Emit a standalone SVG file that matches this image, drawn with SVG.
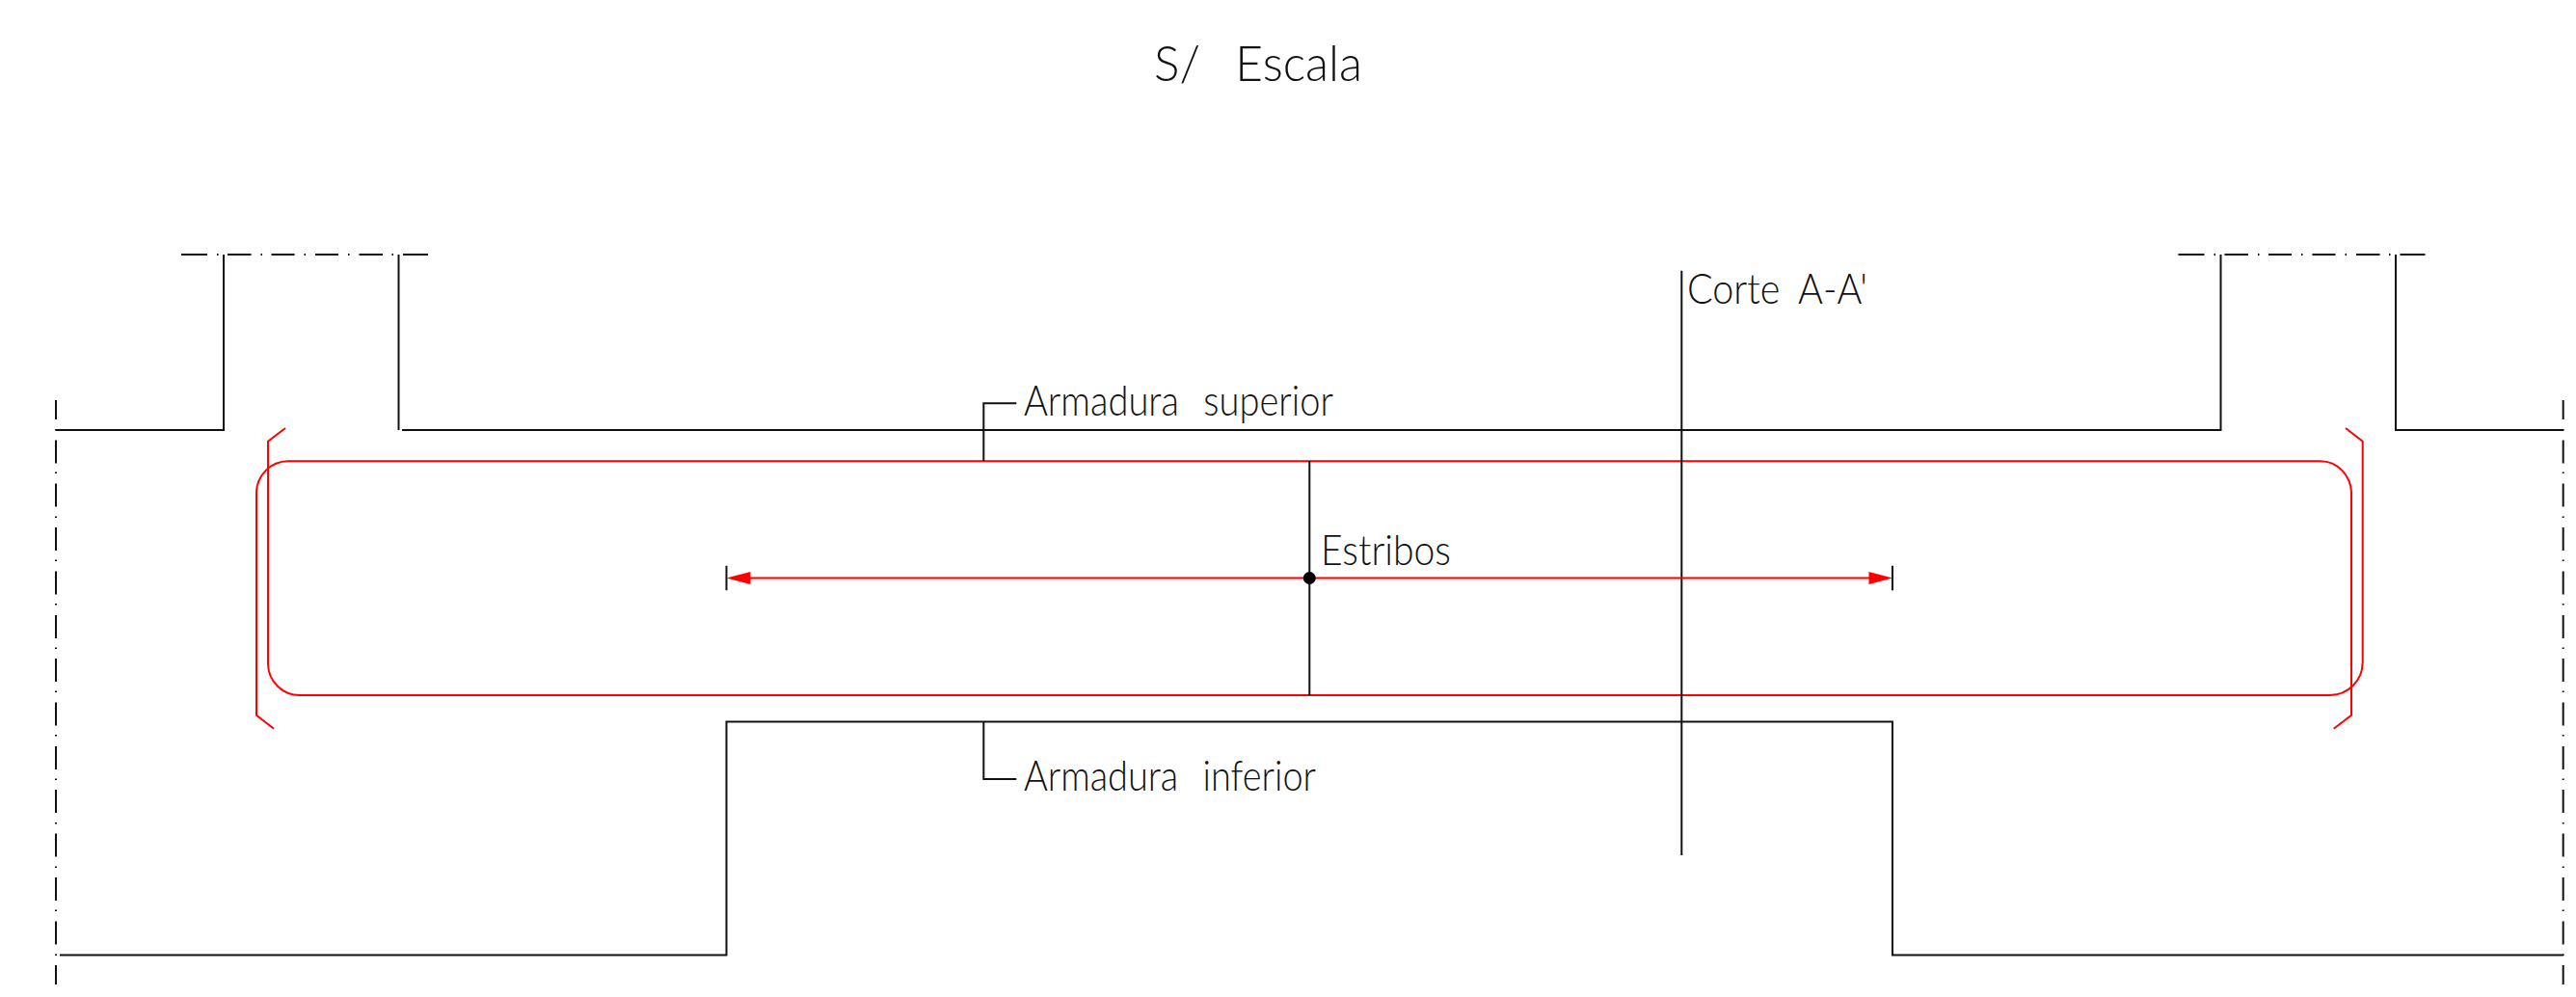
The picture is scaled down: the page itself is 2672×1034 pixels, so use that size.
<svg xmlns="http://www.w3.org/2000/svg" xmlns:xlink="http://www.w3.org/1999/xlink" width="2672" height="1034" viewBox="0 0 2672 1034">
<style>
.k{fill:none;stroke:#111;stroke-width:2}
.r{fill:none;stroke:#f00;stroke-width:2}
.a{fill:#f00;stroke:none}
text{font-family:"Lato","Liberation Sans",sans-serif;font-weight:300;fill:#111}
.t{font-size:43px;word-spacing:17px}
.c{font-size:43px;word-spacing:10px}
.b{font-size:52px;word-spacing:24px}
</style>
<defs>
<path id="hcl" class="k" d="M188 264H215M225 264H226.5M236 264H260.5M270.5 264H272M281.5 264H305.5M315.5 264H317M327 264H351M361 264H362.5M372.5 264H397M406.5 264H408M418 264H444"/>
<path id="vcl" class="k" d="M58 415V435M58 445V446.5M58 456.5V480.5M58 489.5V491M58 501.5V525.5M58 535.5V537M58 547V571M58 580.5V582M58 592.5V616.5M58 626V627.5M58 638V662M58 671.5V673M58 683V707M58 716.5V718M58 728.5V752.5M58 762V763.5M58 774V798M58 807.5V809M58 819V843M58 853V854.5M58 864.5V888.5M58 898.5V900M58 910V934M58 943.5V945M58 955.5V979.5M58 989.5V991M58 1001V1021"/>
</defs>
<g id="axes">
<use href="#hcl"/>
<use href="#hcl" transform="translate(2071.5 0)"/>
<use href="#vcl"/>
<use href="#vcl" transform="translate(2600.7 0)"/>
</g>
<g id="beam-outline">
<path class="k" d="M58 446H232V264"/>
<path class="k" d="M413.5 264V446"/>
<path class="k" d="M417 446H2303.5V264"/>
<path class="k" d="M2485 264V446H2659"/>
<path class="k" d="M62 990.5H753.5V748.5H1963V990.5H2659"/>
</g>
<g id="rebar">
<path class="r" d="M296 444L278 457.7V688A33 33 0 0 0 312 721H2416.7A34 34 0 0 0 2450.7 687V457.7L2433 444"/>
<path class="r" d="M284 755.7L266 741.7V511.7A33 33 0 0 1 299 478.3H2406.7A32.3 33.4 0 0 1 2439 511.7V741.7L2420.7 755.7"/>
</g>
<g id="connectors">
<path class="k" d="M1020.3 478V418.3H1054.3"/>
<path class="k" d="M1020.3 748V808H1054.3"/>
<path class="k" d="M1358.3 478V721"/>
<path class="k" d="M1744.3 280.7V887"/>
<path class="r" d="M770 599.5H1950"/>
<path class="k" d="M753.5 586.7V612.3M1963 586.7V612.3"/>
<polygon class="a" points="753.5,599.5 778.5,593 778.5,606"/>
<polygon class="a" points="1963,599.5 1938.5,593 1938.5,606"/>
<circle cx="1358.3" cy="599.5" r="6.5" fill="#000"/>
</g>
<g id="label-superior"><text class="t" x="1062" y="431" textLength="321" lengthAdjust="spacingAndGlyphs">Armadura superior</text></g>
<g id="label-inferior"><text class="t" x="1062" y="819.5" textLength="303" lengthAdjust="spacingAndGlyphs">Armadura inferior</text></g>
<g id="label-estribos"><text class="t" x="1370" y="586" textLength="135" lengthAdjust="spacingAndGlyphs">Estribos</text></g>
<g id="label-corte"><text class="c" x="1750" y="315" textLength="187" lengthAdjust="spacingAndGlyphs">Corte A-A'</text></g>
<g id="title"><text class="b" x="1197" y="83.5" textLength="216" lengthAdjust="spacingAndGlyphs">S/ Escala</text></g>
</svg>
